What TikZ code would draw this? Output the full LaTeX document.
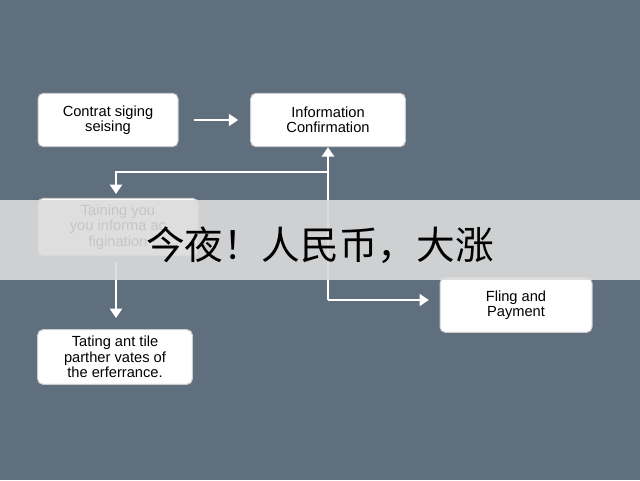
\documentclass[tikz,border=0pt]{standalone}
\usepackage{fontspec}
\setmainfont{Liberation Sans}
\newfontfamily\cjk{Noto Sans CJK SC}
\definecolor{slate}{RGB}{96,111,125}
\tikzset{every picture/.style={line width=0.75pt}}
\tikzset{
  stepbox/.style={draw=black!20, fill=white, rounded corners=4pt, align=center, font=\fontsize{11}{11.5}\selectfont, inner sep=2pt},
  flow/.style={draw=white, line width=1.5pt, -{Triangle[length=7pt,width=9pt]}}
}
\usetikzlibrary{arrows.meta}
\begin{document}
\begin{tikzpicture}[x=0.75pt,y=0.75pt,yscale=-1,xscale=1]
	\fill[slate] (0,0) rectangle (640,480);

	% boxes
	\node[stepbox, minimum width=105pt, minimum height=40pt] (sign) at (108,120) {Contrat siging\\seising};
	\node[stepbox, minimum width=116pt, minimum height=40pt] (info) at (328,120) {Information\\Confirmation};
	\node[stepbox, minimum width=120pt, minimum height=43pt] (train) at (118,227) {Taining you\\you informa ac\\figination};
	\node[stepbox, minimum width=116pt, minimum height=41pt] (tate) at (115,357) {Tating ant tile\\parther vates of\\the erferrance.};
	\node[stepbox, minimum width=114pt, minimum height=41pt] (pay) at (516,305) {Fling and\\Payment};

	% connectors
	\coordinate (bend) at (328,300);
	\coordinate (turn) at (328,172);
	\coordinate (corner) at (116,172);
	\draw[flow] (sign.east) ++(15,0) -- ([xshift=-9pt]info.west);
	\draw[flow] (bend) -- (info.south);
	\draw[flow] (bend) -- ([xshift=-8pt]pay.west |- bend);
	\draw[flow] (turn) -- (corner) -- (116,194);
	\draw[flow] (116,262) -- (116,318);

	% banner
	\fill[white!86!black, opacity=0.9] (0,200) rectangle (640,280);
	\node[font=\cjk\fontsize{29}{32}\selectfont] (title) at (320,245) {今夜！人民币，大涨};
\end{tikzpicture}
\end{document}
